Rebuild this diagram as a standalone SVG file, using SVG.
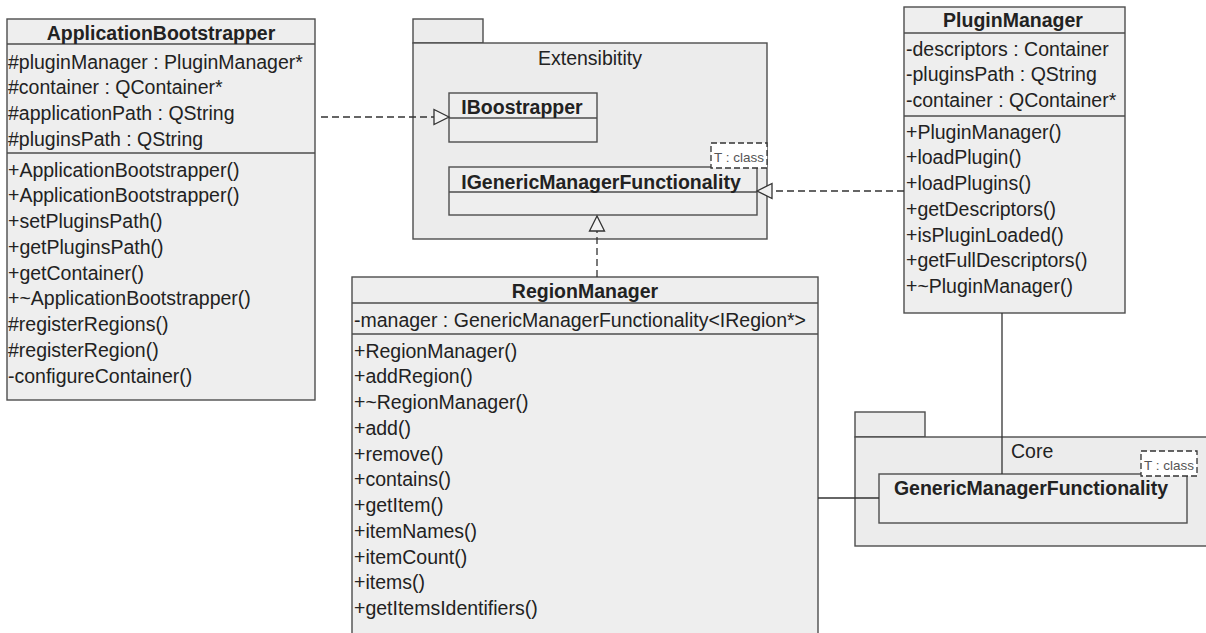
<svg xmlns="http://www.w3.org/2000/svg" width="1206" height="633" viewBox="0 0 1206 633">
  <style>
    text { font-family: "Liberation Sans", Arial, sans-serif; font-size: 19.5px; fill: #222; }
    .title { font-weight: bold; text-anchor: middle; }
    .pkgname { text-anchor: middle; }
    .box { fill: #eeeeee; stroke: #4d4d4d; stroke-width: 1.4; }
    .pkg { fill: #ececec; stroke: #4d4d4d; stroke-width: 1.4; }
    .sep { stroke: #4d4d4d; stroke-width: 1.4; fill: none; }
    .tparam { fill: #ffffff; stroke: #333; stroke-width: 1.3; stroke-dasharray: 6 3; }
    .tparam-text { font-size: 13.5px; fill: #555; }
    .dep { stroke: #333; stroke-width: 1.3; stroke-dasharray: 7 4; fill: none; }
    .assoc { stroke: #333; stroke-width: 1.3; fill: none; }
    .head { fill: #f2f2f2; stroke: #333; stroke-width: 1.3; }
  </style>

  <rect width="1206" height="633" fill="#ffffff"/>

  <!-- Package: Extensibitity -->
  <g id="pkg-extensibility">
    <rect class="pkg" x="413" y="19" width="70" height="24"/>
    <rect class="pkg" x="413" y="43" width="354" height="196"/>
    <text class="pkgname" x="590" y="65">Extensibitity</text>
  </g>

  <g id="IBoostrapper">
    <rect class="box" x="449" y="93" width="148" height="49"/>
    <line class="sep" x1="449" y1="118" x2="597" y2="118"/>
    <text class="title" x="522" y="113.5">IBoostrapper</text>
  </g>

  <g id="IGenericManagerFunctionality">
    <rect class="box" x="449" y="167" width="308" height="48"/>
    <line class="sep" x1="449" y1="192" x2="757" y2="192"/>
    <text class="title" x="601" y="188.5">IGenericManagerFunctionality</text>
    <rect class="tparam" x="711" y="143" width="56" height="25"/>
    <text class="tparam-text" x="714" y="161.5">T : class</text>
  </g>

  <!-- Package: Core -->
  <g id="pkg-core">
    <rect class="pkg" x="855" y="412" width="70" height="25"/>
    <rect class="pkg" x="855" y="437" width="354" height="109"/>
    <text x="1011" y="457.5">Core</text>
  </g>

  <g id="GenericManagerFunctionality">
    <rect class="box" x="879" y="474" width="308" height="49"/>
    <text class="title" x="1031" y="495">GenericManagerFunctionality</text>
    <rect class="tparam" x="1141" y="451" width="56" height="25"/>
    <text class="tparam-text" x="1144" y="469.5">T : class</text>
  </g>

  <g id="ApplicationBootstrapper">
    <rect class="box" x="7" y="19" width="308" height="381"/>
    <line class="sep" x1="7" y1="44" x2="315" y2="44"/>
    <line class="sep" x1="7" y1="153" x2="315" y2="153"/>
    <text class="title" x="161" y="39.5">ApplicationBootstrapper</text>
    <text x="8" y="68.5">#pluginManager : PluginManager*</text>
    <text x="8" y="94.25">#container : QContainer*</text>
    <text x="8" y="120">#applicationPath : QString</text>
    <text x="8" y="145.75">#pluginsPath : QString</text>
    <text x="8" y="176.5">+ApplicationBootstrapper()</text>
    <text x="8" y="202.25">+ApplicationBootstrapper()</text>
    <text x="8" y="228">+setPluginsPath()</text>
    <text x="8" y="253.75">+getPluginsPath()</text>
    <text x="8" y="279.5">+getContainer()</text>
    <text x="8" y="305.25">+~ApplicationBootstrapper()</text>
    <text x="8" y="331">#registerRegions()</text>
    <text x="8" y="356.75">#registerRegion()</text>
    <text x="8" y="382.5">-configureContainer()</text>
  </g>

  <g id="PluginManager">
    <rect class="box" x="904" y="7" width="221" height="306"/>
    <line class="sep" x1="904" y1="33" x2="1125" y2="33"/>
    <line class="sep" x1="904" y1="116" x2="1125" y2="116"/>
    <text class="title" x="1013" y="27">PluginManager</text>
    <text x="906" y="55.5">-descriptors : Container</text>
    <text x="906" y="81.25">-pluginsPath : QString</text>
    <text x="906" y="107">-container : QContainer*</text>
    <text x="906" y="138.5">+PluginManager()</text>
    <text x="906" y="164.25">+loadPlugin()</text>
    <text x="906" y="190">+loadPlugins()</text>
    <text x="906" y="215.75">+getDescriptors()</text>
    <text x="906" y="241.5">+isPluginLoaded()</text>
    <text x="906" y="267.25">+getFullDescriptors()</text>
    <text x="906" y="293">+~PluginManager()</text>
  </g>

  <g id="RegionManager">
    <rect class="box" x="352" y="277" width="466" height="370"/>
    <line class="sep" x1="352" y1="303" x2="818" y2="303"/>
    <line class="sep" x1="352" y1="334" x2="818" y2="334"/>
    <text class="title" x="585" y="297.5">RegionManager</text>
    <text x="354" y="326.5">-manager : GenericManagerFunctionality&lt;IRegion*&gt;</text>
    <text x="354" y="357.5">+RegionManager()</text>
    <text x="354" y="383.25">+addRegion()</text>
    <text x="354" y="409">+~RegionManager()</text>
    <text x="354" y="434.75">+add()</text>
    <text x="354" y="460.5">+remove()</text>
    <text x="354" y="486.25">+contains()</text>
    <text x="354" y="512">+getItem()</text>
    <text x="354" y="537.75">+itemNames()</text>
    <text x="354" y="563.5">+itemCount()</text>
    <text x="354" y="589.25">+items()</text>
    <text x="354" y="615">+getItemsIdentifiers()</text>
  </g>

  <!-- Connectors -->
  <g id="connectors">
    <!-- ApplicationBootstrapper realizes IBoostrapper -->
    <line class="dep" x1="321" y1="117" x2="434" y2="117"/>
    <polygon class="head" points="449,117 434,109.5 434,124.5"/>
    <!-- PluginManager realizes IGenericManagerFunctionality -->
    <line class="dep" x1="904" y1="191" x2="772" y2="191"/>
    <polygon class="head" points="757,191 772,183.5 772,198.5"/>
    <!-- RegionManager realizes IGenericManagerFunctionality -->
    <line class="dep" x1="597" y1="277" x2="597" y2="231"/>
    <polygon class="head" points="597,216 589.5,231 604.5,231"/>
    <!-- associations with GenericManagerFunctionality -->
    <line class="assoc" x1="1002" y1="313" x2="1002" y2="474"/>
    <line class="assoc" x1="818" y1="498" x2="879" y2="498"/>
  </g>
</svg>
